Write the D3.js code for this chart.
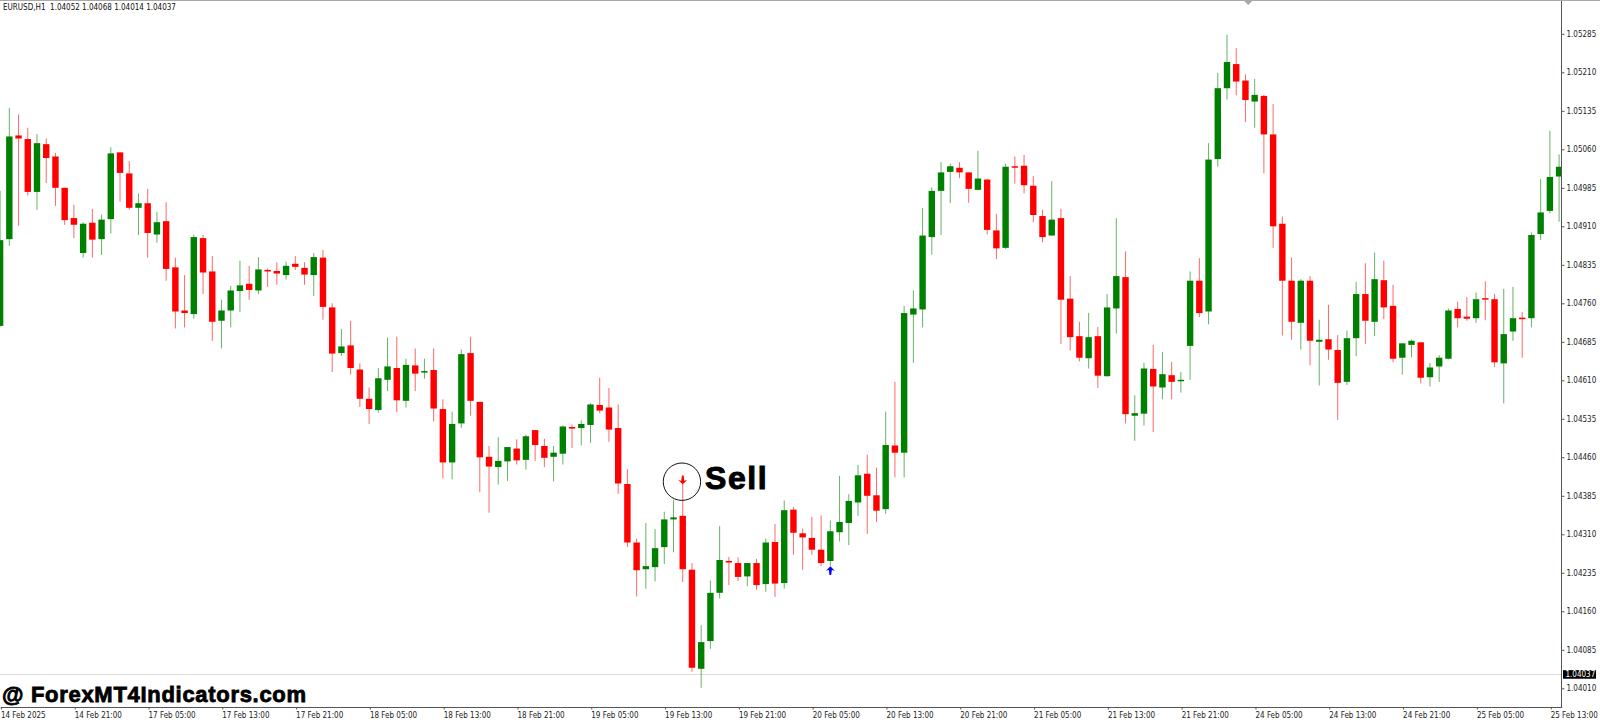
<!DOCTYPE html>
<html>
<head>
<meta charset="utf-8">
<script src="https://cdn.jsdelivr.net/npm/d3@7"></script>
<style>
  html, body { margin: 0; padding: 0; background: #fff; }
  svg { display: block; }
  text { font-family: "DejaVu Sans", sans-serif; font-stretch: condensed; }
</style>
</head>
<body>
<svg width="1600" height="720"></svg>
<script>
const opens = [
  1.04716,1.04885,1.05087,1.05080,1.04977,1.05070,1.05046,1.04985,1.04926,1.04858,
  1.04917,1.04885,1.04924,1.05054,1.05013,1.04946,1.04955,1.04894,1.04920,1.04830,
  1.04746,1.04739,1.04887,1.04822,1.04726,1.04746,1.04784,1.04798,1.04785,1.04825,
  1.04823,1.04815,1.04837,1.04829,1.04815,1.04849,1.04752,1.04663,1.04678,1.04631,
  1.04574,1.04552,1.04611,1.04634,1.04570,1.04639,1.04625,1.04630,1.04554,1.04450,
  1.04526,1.04663,1.04568,1.04461,1.04441,1.04452,1.04477,1.04455,1.04513,1.04482,
  1.04461,1.04467,1.04519,1.04517,1.04523,1.04562,1.04557,1.04517,1.04408,1.04294,
  1.04242,1.04246,1.04285,1.04339,1.04346,1.04241,1.04048,1.04102,1.04196,1.04258,
  1.04254,1.04228,1.04254,1.04213,1.04295,1.04215,1.04358,1.04312,1.04303,1.04280,
  1.04258,1.04314,1.04332,1.04372,1.04428,1.04386,1.04359,1.04483,1.04469,1.04738,
  1.04748,1.04889,1.04979,1.05016,1.05024,1.05015,1.04981,1.05001,1.04902,1.04868,
  1.05027,1.05028,1.04989,1.04930,1.04892,1.04926,1.04769,1.04696,1.04653,1.04696,
  1.04618,1.04750,1.04811,1.04541,1.04545,1.04632,1.04596,1.04620,1.04609,1.04677,
  1.04804,1.04744,1.05041,1.05179,1.05226,1.05194,1.05153,1.05164,1.05089,1.04915,
  1.04804,1.04722,1.04804,1.04685,1.04690,1.04669,1.04607,1.04692,1.04778,1.04724,
  1.04805,1.04755,1.04654,1.04679,1.04684,1.04616,1.04637,1.04652,1.04749,1.04734,
  1.04731,1.04770,1.04768,1.04643,1.04705,1.04732,1.04731,1.04895,1.04940,1.05007
];
const closes = [
  1.04883,1.05085,1.05081,1.04977,1.05072,1.05043,1.04985,1.04922,1.04913,1.04915,
  1.04884,1.04923,1.05052,1.05014,1.04946,1.04955,1.04897,1.04918,1.04827,1.04744,
  1.04741,1.04889,1.04820,1.04724,1.04746,1.04785,1.04795,1.04786,1.04826,1.04822,
  1.04818,1.04833,1.04831,1.04816,1.04850,1.04753,1.04662,1.04676,1.04634,1.04574,
  1.04554,1.04614,1.04637,1.04571,1.04640,1.04623,1.04628,1.04555,1.04450,1.04525,
  1.04661,1.04570,1.04460,1.04442,1.04453,1.04480,1.04454,1.04501,1.04484,1.04459,
  1.04469,1.04520,1.04516,1.04525,1.04563,1.04551,1.04514,1.04409,1.04294,1.04240,
  1.04248,1.04283,1.04339,1.04343,1.04242,1.04050,1.04100,1.04196,1.04260,1.04256,
  1.04227,1.04254,1.04211,1.04294,1.04214,1.04357,1.04313,1.04304,1.04280,1.04254,
  1.04316,1.04334,1.04375,1.04425,1.04385,1.04356,1.04484,1.04469,1.04741,1.04750,
  1.04892,1.04979,1.05015,1.05027,1.05015,1.04983,1.05003,1.04903,1.04867,1.05026,
  1.05025,1.04990,1.04932,1.04889,1.04923,1.04767,1.04694,1.04654,1.04694,1.04619,
  1.04752,1.04813,1.04544,1.04546,1.04633,1.04598,1.04622,1.04607,1.04611,1.04804,
  1.04741,1.05040,1.05179,1.05230,1.05192,1.05156,1.05166,1.05089,1.04910,1.04804,
  1.04724,1.04804,1.04687,1.04689,1.04670,1.04605,1.04692,1.04778,1.04726,1.04807,
  1.04752,1.04652,1.04682,1.04687,1.04615,1.04635,1.04654,1.04746,1.04731,1.04730,
  1.04768,1.04768,1.04645,1.04700,1.04731,1.04730,1.04893,1.04937,1.05006,1.05026
];
const highs = [
  1.04979,1.05141,1.05128,1.05102,1.05090,1.05081,1.05053,1.04985,1.04952,1.04918,
  1.04944,1.04933,1.05064,1.05054,1.05037,1.04974,1.04983,1.04938,1.04957,1.04849,
  1.04815,1.04894,1.04893,1.04852,1.04767,1.04794,1.04843,1.04833,1.04850,1.04828,
  1.04840,1.04841,1.04852,1.04840,1.04858,1.04864,1.04760,1.04710,1.04726,1.04643,
  1.04596,1.04634,1.04693,1.04695,1.04652,1.04672,1.04652,1.04672,1.04573,1.04549,
  1.04670,1.04695,1.04568,1.04482,1.04499,1.04480,1.04495,1.04504,1.04513,1.04496,
  1.04482,1.04522,1.04524,1.04532,1.04565,1.04615,1.04595,1.04563,1.04437,1.04302,
  1.04332,1.04320,1.04354,1.04377,1.04410,1.04254,1.04133,1.04220,1.04326,1.04266,
  1.04265,1.04254,1.04262,1.04302,1.04330,1.04376,1.04363,1.04321,1.04344,1.04347,
  1.04337,1.04424,1.04388,1.04445,1.04465,1.04440,1.04549,1.04607,1.04755,1.04785,
  1.04946,1.04986,1.05035,1.05032,1.05035,1.05015,1.05057,1.05003,1.04934,1.05032,
  1.05046,1.05049,1.05008,1.04942,1.04998,1.04944,1.04813,1.04724,1.04741,1.04714,
  1.04778,1.04926,1.04861,1.04581,1.04644,1.04679,1.04665,1.04646,1.04626,1.04822,
  1.04848,1.05072,1.05209,1.05283,1.05257,1.05206,1.05197,1.05166,1.05148,1.04929,
  1.04849,1.04807,1.04813,1.04728,1.04757,1.04698,1.04707,1.04802,1.04838,1.04859,
  1.04843,1.04796,1.04682,1.04689,1.04684,1.04644,1.04659,1.04750,1.04763,1.04772,
  1.04781,1.04803,1.04778,1.04788,1.04792,1.04743,1.04898,1.05002,1.05096,1.05050
];
const lows = [
  1.04714,1.04872,1.04911,1.04970,1.04942,1.04994,1.04950,1.04913,1.04887,1.04849,
  1.04849,1.04854,1.04896,1.04958,1.04942,1.04893,1.04849,1.04878,1.04804,1.04711,
  1.04713,1.04730,1.04778,1.04687,1.04672,1.04713,1.04743,1.04767,1.04778,1.04792,
  1.04796,1.04806,1.04825,1.04796,1.04774,1.04728,1.04626,1.04658,1.04621,1.04558,
  1.04525,1.04547,1.04589,1.04548,1.04557,1.04589,1.04613,1.04530,1.04419,1.04417,
  1.04517,1.04541,1.04392,1.04352,1.04407,1.04414,1.04446,1.04436,1.04453,1.04441,
  1.04413,1.04446,1.04478,1.04483,1.04488,1.04546,1.04490,1.04389,1.04285,1.04189,
  1.04204,1.04218,1.04252,1.04275,1.04217,1.04042,1.04011,1.04087,1.04185,1.04211,
  1.04219,1.04209,1.04202,1.04198,1.04188,1.04204,1.04270,1.04241,1.04270,1.04248,
  1.04248,1.04296,1.04289,1.04346,1.04311,1.04334,1.04350,1.04421,1.04421,1.04644,
  1.04713,1.04855,1.04893,1.04955,1.05004,1.04956,1.04980,1.04894,1.04846,1.04866,
  1.04993,1.04974,1.04918,1.04879,1.04892,1.04681,1.04668,1.04647,1.04633,1.04595,
  1.04617,1.04701,1.04526,1.04492,1.04522,1.04509,1.04573,1.04573,1.04586,1.04611,
  1.04733,1.04719,1.05026,1.05157,1.05165,1.05113,1.05102,1.05013,1.04868,1.04697,
  1.04689,1.04670,1.04639,1.04600,1.04650,1.04533,1.04601,1.04657,1.04681,1.04696,
  1.04729,1.04645,1.04621,1.04655,1.04604,1.04598,1.04607,1.04651,1.04713,1.04726,
  1.04722,1.04727,1.04636,1.04565,1.04687,1.04654,1.04713,1.04883,1.04935,1.04919
];

const priceTicks = [1.05285,1.05210,1.05135,1.05060,1.04985,1.04910,1.04835,1.04760,1.04685,1.04610,
  1.04535,1.04460,1.04385,1.04310,1.04235,1.04160,1.04085,1.04010];
const timeLabels = ['14 Feb 2025','14 Feb 21:00','17 Feb 05:00','17 Feb 13:00','17 Feb 21:00','18 Feb 05:00',
  '18 Feb 13:00','18 Feb 21:00','19 Feb 05:00','19 Feb 13:00','19 Feb 21:00','20 Feb 05:00','20 Feb 13:00',
  '20 Feb 21:00','21 Feb 05:00','21 Feb 13:00','21 Feb 21:00','24 Feb 05:00','24 Feb 13:00','24 Feb 21:00',
  '25 Feb 05:00','25 Feb 13:00'];
const barsPerLabel = 8;
const lastPrice = 1.04037;
const sellBar = 74;
const sellPrice = 1.04416;
const buyBar = 90;
const buyPrice = 1.04239;
const gridBar = 135.3;

const UP = '#008000';
const DOWN = '#ff0000';
const AXIS = '#555';
const FONT = '"DejaVu Sans", sans-serif';
const right = 1561.5;
const bottom = 707.5;

const svg = d3.select('svg');
const x = d3.scaleLinear().domain([0, 169]).range([0.1, 1559.1]);
const y = d3.scaleLinear().domain([1.0506, 1.0401]).range([149.3, 688.3]);

svg.append('clipPath').attr('id', 'plot')
  .append('rect').attr('width', right).attr('height', bottom);

// last price line goes under the candles
svg.append('line')
  .attr('x1', 0).attr('x2', right)
  .attr('y1', y(lastPrice)).attr('y2', y(lastPrice))
  .attr('stroke', '#dcdcdc');

const bars = svg.append('g').attr('clip-path', 'url(#plot)')
  .selectAll('g').data(d3.range(opens.length)).enter().append('g');

bars.append('line')
  .attr('x1', (i) => x(i)).attr('x2', (i) => x(i))
  .attr('y1', (i) => y(highs[i])).attr('y2', (i) => y(lows[i]))
  .attr('stroke', (i) => (closes[i] >= opens[i] ? UP : DOWN))
  .attr('stroke-opacity', 0.6)
  .attr('stroke-width', 1);

bars.append('rect')
  .attr('x', (i) => x(i) - 3.2)
  .attr('width', 6.4)
  .attr('y', (i) => y(Math.max(opens[i], closes[i])))
  .attr('height', (i) => Math.max(1.5, Math.abs(y(opens[i]) - y(closes[i]))))
  .attr('fill', (i) => (closes[i] >= opens[i] ? UP : DOWN));

// signal arrows
const arrow = 'M0 -3.5 L3.5 0 L1.2 -0.6 L0.7 3.5 L-0.7 3.5 L-1.2 -0.6 L-3.5 0 Z';
svg.append('path').attr('d', arrow).attr('fill', DOWN)
  .attr('transform', `translate(${x(sellBar)},${y(sellPrice)}) rotate(180) scale(1.25)`);
svg.append('path').attr('d', arrow).attr('fill', '#0000ff')
  .attr('transform', `translate(${x(buyBar)},${y(buyPrice)}) scale(1.25)`);

// axes
const yAxis = d3.axisRight(y).tickValues(priceTicks).tickFormat(d3.format('.5f')).tickSize(3).tickPadding(2);
const gy = svg.append('g').attr('transform', `translate(${right},0)`).call(yAxis);
gy.select('.domain').attr('d', `M0 0 V${bottom}`).attr('stroke', AXIS);

const tickBars = timeLabels.map((d, i) => i * barsPerLabel);
const xAxis = d3.axisBottom(x).tickValues(tickBars)
  .tickFormat((d, i) => timeLabels[i]).tickSize(2).tickPadding(3);
const gx = svg.append('g').attr('transform', `translate(0.8,${bottom})`).call(xAxis);
gx.select('.domain').attr('d', `M0 0 H${right}`).attr('stroke', AXIS);
gx.selectAll('text').attr('text-anchor', 'start').attr('dx', -0.5);

svg.selectAll('.tick line').attr('stroke', AXIS);
svg.selectAll('.tick text')
  .attr('fill', '#222')
  .style('font-family', FONT)
  .style('font-stretch', 'condensed')
  .style('font-size', '8px');

// top border and its small marker
svg.append('line').attr('x1', 0).attr('x2', 1600).attr('y1', 0.5).attr('y2', 0.5).attr('stroke', '#a8a8a8');
svg.append('path')
  .attr('d', `M${x(gridBar) - 4} 1 H${x(gridBar) + 4} L${x(gridBar)} 5 Z`)
  .attr('fill', '#a8a8a8');

// current price tag
svg.append('rect')
  .attr('x', 1563).attr('width', 33)
  .attr('y', y(lastPrice) - 4.3).attr('height', 8.6)
  .attr('fill', '#000');
svg.append('text')
  .attr('x', 1565.5).attr('y', y(lastPrice) + 3)
  .attr('fill', '#fff').attr('font-size', 8)
  .text(d3.format('.5f')(lastPrice));

// header
svg.append('text')
  .attr('x', 3).attr('y', 10)
  .attr('fill', '#111').attr('font-size', 8)
  .attr('xml:space', 'preserve')
  .text('EURUSD,H1  1.04052 1.04068 1.04014 1.04037');

// annotation
svg.append('circle')
  .attr('cx', x(sellBar) - 0.8).attr('cy', 481.7).attr('r', 18.7)
  .attr('fill', 'none').attr('stroke', '#111').attr('stroke-width', 1);
svg.append('text')
  .attr('x', 705).attr('y', 489)
  .attr('fill', '#000').attr('stroke', '#000').attr('stroke-width', 1)
  .style('font-family', '"Liberation Sans", Arial, sans-serif')
  .style('font-stretch', 'normal')
  .style('letter-spacing', '1.6px')
  .attr('font-weight', 700).attr('font-size', 32)
  .text('Sell');
svg.append('text')
  .attr('x', 2).attr('y', 701.5)
  .attr('fill', '#000').attr('stroke', '#000').attr('stroke-width', 0.8)
  .style('font-family', '"Liberation Sans", Arial, sans-serif')
  .style('font-stretch', 'normal')
  .style('letter-spacing', '0.7px')
  .attr('font-weight', 700).attr('font-size', 22)
  .text('@ ForexMT4Indicators.com');
</script>
</body>
</html>
